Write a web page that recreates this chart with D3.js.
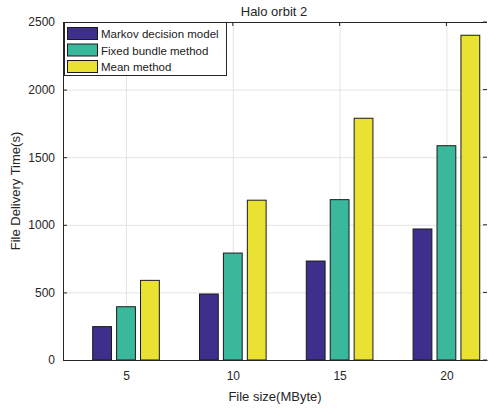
<!DOCTYPE html>
<html>
<head>
<meta charset="utf-8">
<style>
  body { margin: 0; background: #fff; }
  svg { font-family: Arial, 'Liberation Sans', sans-serif; display: block; }
  .tick text { fill: #262626; font-size: 12px; }
  .grid line { stroke: #e3e3e3; }
  .grid .domain { display: none; }
</style>
</head>
<body>
<svg width="488" height="408"></svg>
<script src="https://d3js.org/d3.v7.min.js"></script>
<script>
const sizes = [5, 10, 15, 20];
const seriesNames = ["Markov decision model", "Fixed bundle method", "Mean method"];
const markov = [247, 488, 732, 969];
const fixedBundle = [394, 791, 1186, 1585];
const meanMethod = [589, 1182, 1788, 2402];
const yTicks = [0, 500, 1000, 1500, 2000, 2500];
const colors = ["#3f2f8c", "#3ab89c", "#e9e233"];

const values = [markov, fixedBundle, meanMethod];
const svg = d3.select("svg");
const margin = { top: 22, right: 1, bottom: 48, left: 63 };
const width = 488, height = 408;

const x = d3.scaleLinear().domain([2.05, 21.9]).range([margin.left, width - margin.right]);
const y = d3.scaleLinear().domain([0, 2500]).range([height - margin.bottom, margin.top]);

// grid
svg.append("g").attr("class", "grid")
  .attr("transform", `translate(0,${height - margin.bottom})`)
  .call(d3.axisBottom(x).tickValues(sizes).tickSize(-(y(0) - y(2500))).tickFormat(""));
svg.append("g").attr("class", "grid")
  .attr("transform", `translate(${margin.left},0)`)
  .call(d3.axisLeft(y).tickValues(yTicks).tickSize(-(x.range()[1] - margin.left)).tickFormat(""));

// bars
const barW = 0.88, step = 1.12;
values.forEach((vals, s) => {
  svg.append("g").selectAll("rect")
    .data(vals)
    .join("rect")
    .attr("x", (d, i) => x(sizes[i] + (s - 1) * step - barW / 2))
    .attr("width", x(barW) - x(0))
    .attr("y", d => y(d))
    .attr("height", d => y(0) - y(d))
    .attr("fill", colors[s])
    .attr("stroke", "#1a1a1a")
    .attr("stroke-width", 1);
});

// axes
const xAxis = svg.append("g")
  .attr("transform", `translate(0,${height - margin.bottom})`)
  .call(d3.axisBottom(x).tickValues(sizes).tickSize(0).tickPadding(11).tickFormat(d3.format("d")));
xAxis.select(".domain").attr("stroke", "#262626");

const yAxis = svg.append("g")
  .attr("transform", `translate(${margin.left},0)`)
  .call(d3.axisLeft(y).tickValues(yTicks).tickFormat(d3.format("d")).tickSizeInner(-4).tickSizeOuter(0).tickPadding(8));
yAxis.select(".domain").attr("stroke", "#262626");
yAxis.selectAll(".tick line").attr("stroke", "#262626");

// top frame line and top/right ticks
svg.append("line")
  .attr("x1", margin.left).attr("x2", width - margin.right)
  .attr("y1", margin.top + 0.5).attr("y2", margin.top + 0.5)
  .attr("stroke", "#262626");
svg.append("g").selectAll("line")
  .data(sizes)
  .join("line")
  .attr("x1", d => x(d)).attr("x2", d => x(d))
  .attr("y1", margin.top).attr("y2", margin.top + 4)
  .attr("stroke", "#262626");
svg.append("g").selectAll("line")
  .data(yTicks)
  .join("line")
  .attr("x1", width - margin.right - 4).attr("x2", width - margin.right)
  .attr("y1", d => y(d)).attr("y2", d => y(d))
  .attr("stroke", "#262626");

// title and labels
svg.append("text")
  .attr("x", 274).attr("y", 16)
  .attr("text-anchor", "middle")
  .attr("font-size", "13px").attr("fill", "#262626")
  .text("Halo orbit 2");

svg.append("text")
  .attr("x", 275).attr("y", 401)
  .attr("text-anchor", "middle")
  .attr("font-size", "13px").attr("fill", "#262626")
  .text("File size(MByte)");

svg.append("text")
  .attr("transform", `translate(20,${(margin.top + height - margin.bottom) / 2}) rotate(-90)`)
  .attr("text-anchor", "middle")
  .attr("font-size", "13px").attr("fill", "#262626")
  .text("File Delivery Time(s)");

// legend
const legend = svg.append("g");
legend.append("rect")
  .attr("x", 64.5).attr("y", 22.5)
  .attr("width", 162).attr("height", 53)
  .attr("fill", "#fff").attr("stroke", "#262626");
seriesNames.forEach((name, i) => {
  legend.append("rect")
    .attr("x", 67.5).attr("y", 27.5 + i * 16.5)
    .attr("width", 30).attr("height", 12)
    .attr("fill", colors[i]).attr("stroke", "#1a1a1a");
  legend.append("text")
    .attr("x", 101).attr("y", 38 + i * 16.5)
    .attr("font-size", "11.5px").attr("fill", "#1a1a1a")
    .text(name);
});
</script>
</body>
</html>
